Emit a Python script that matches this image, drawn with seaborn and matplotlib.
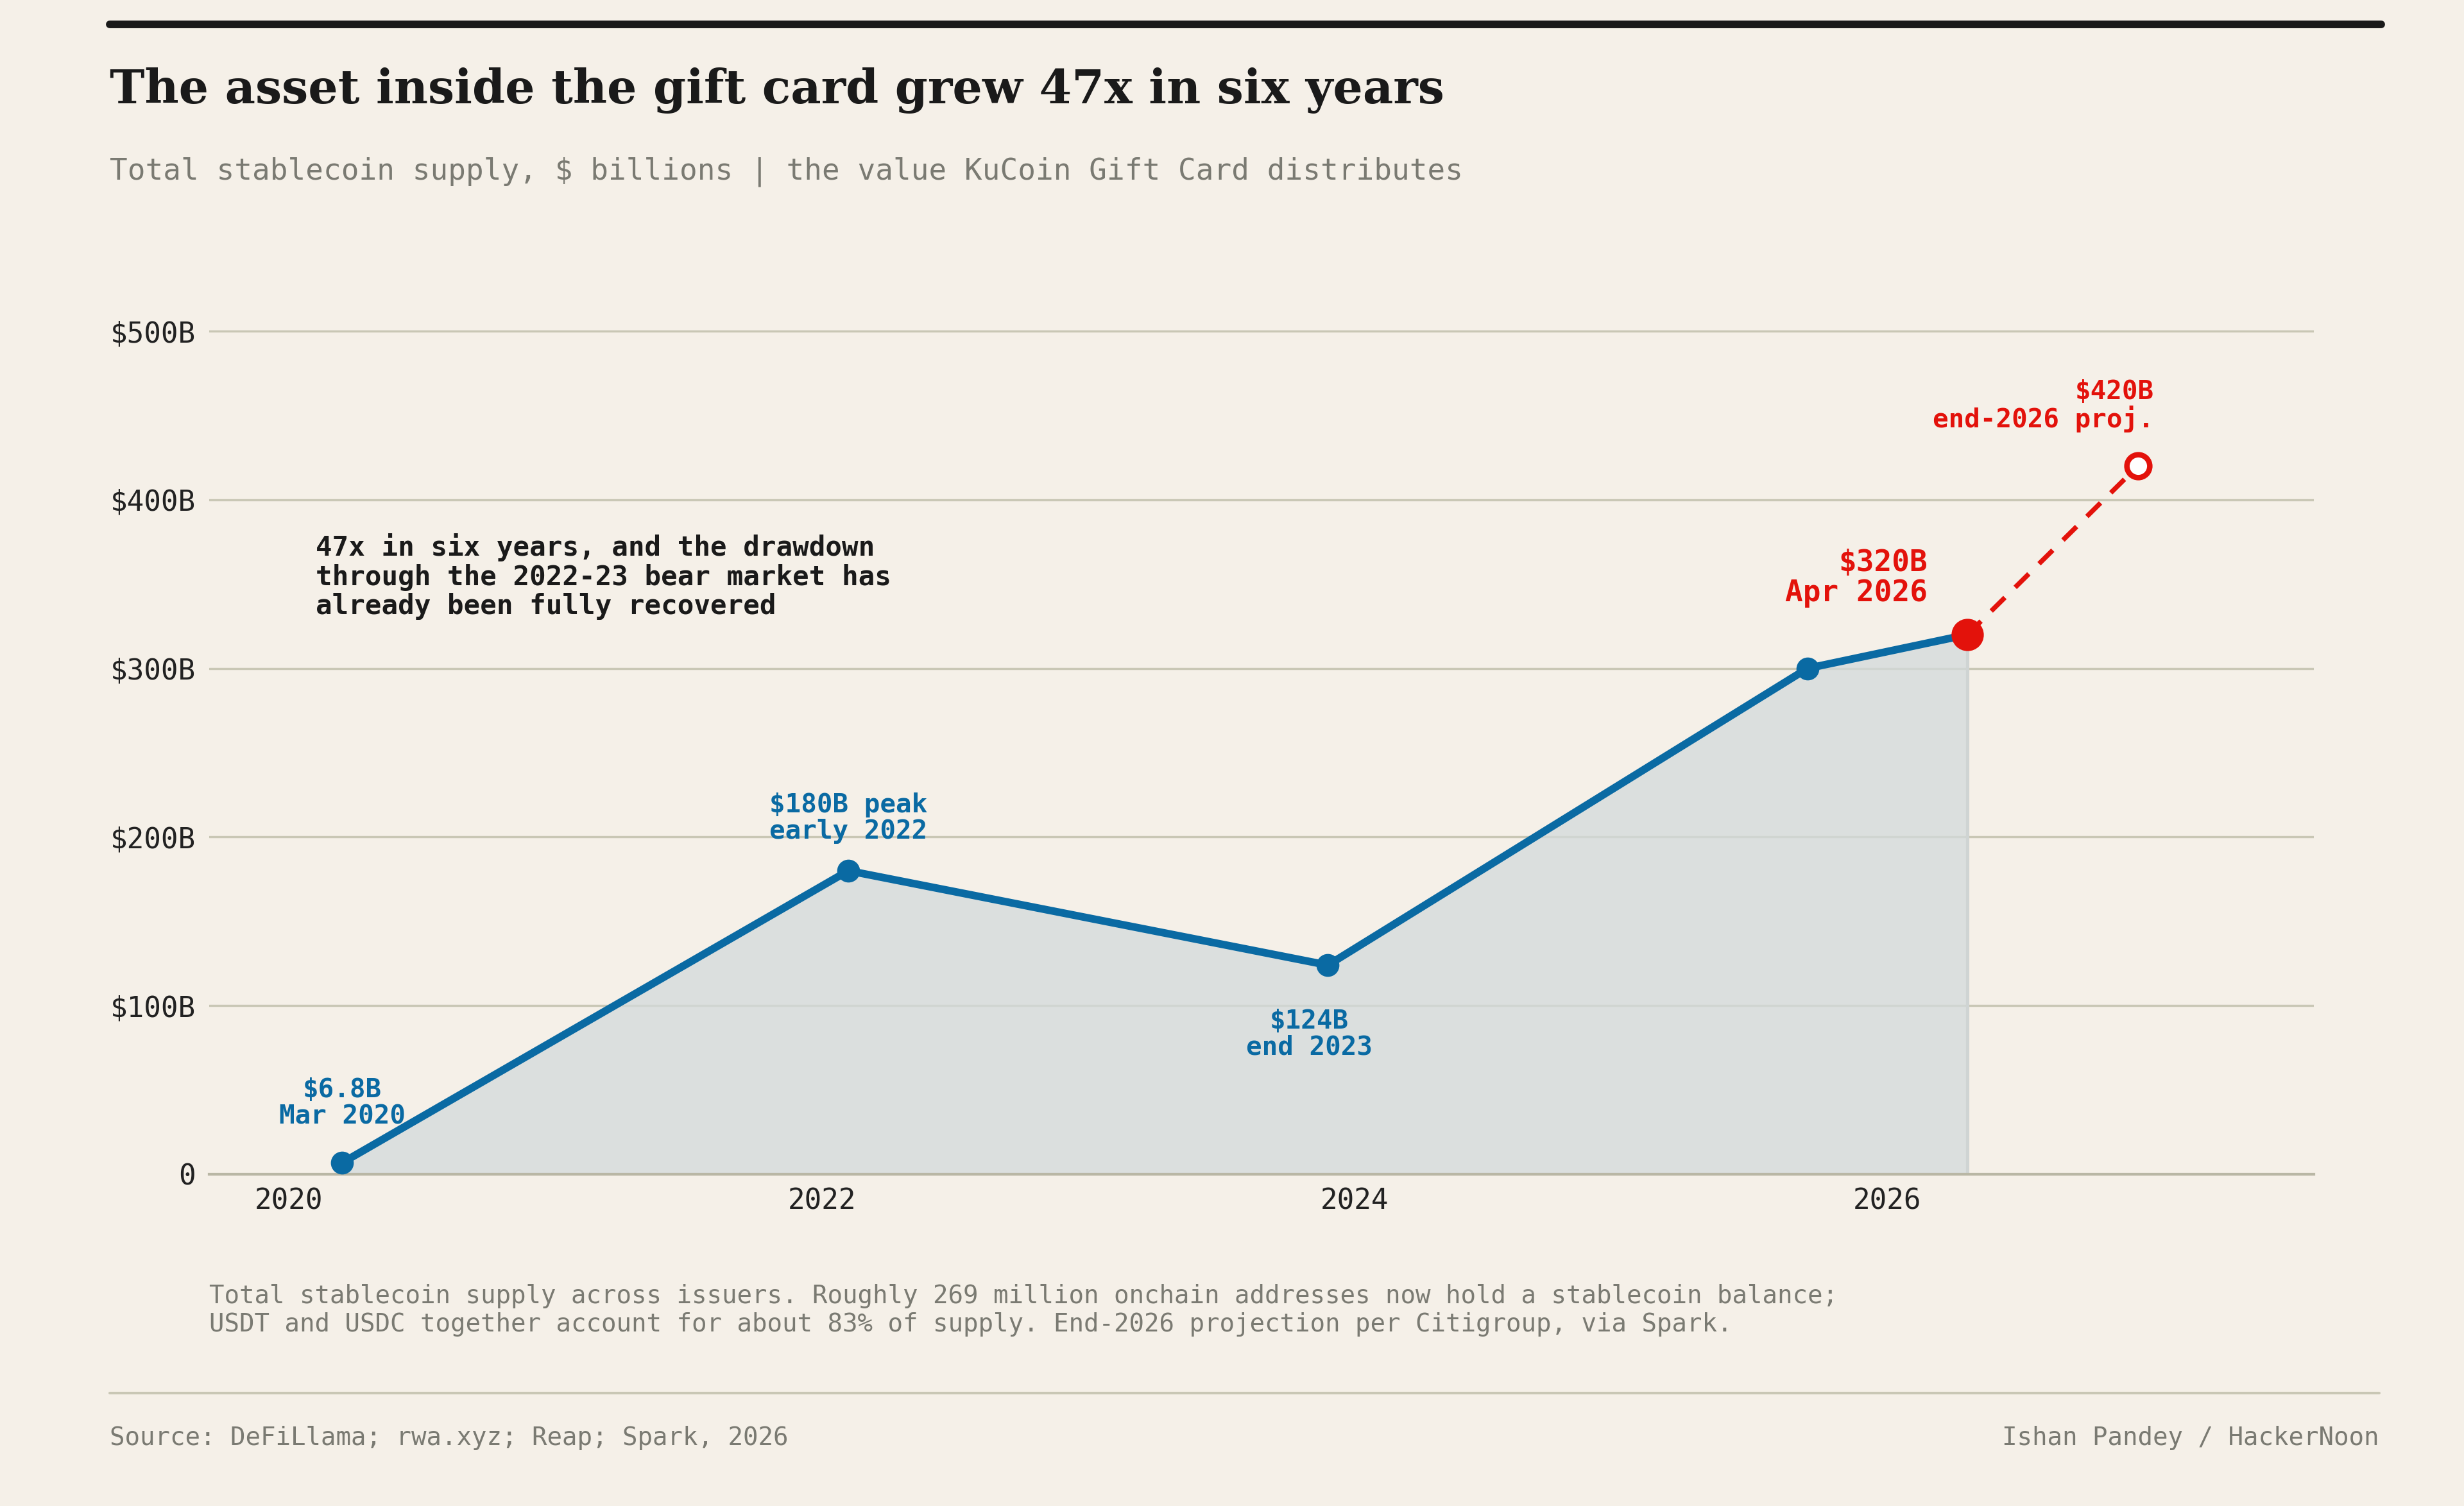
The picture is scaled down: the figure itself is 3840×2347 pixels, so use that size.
import matplotlib
matplotlib.use("Agg")
import matplotlib.pyplot as plt
from matplotlib.lines import Line2D
import seaborn as sns
import pandas as pd

# data
years = [2020.2, 2022.1, 2023.9, 2025.7, 2026.3]
supply = [6.8, 180, 124, 300, 320]
proj_years = [2026.3, 2026.94]
proj_supply = [320, 420]
tick_years = [2020, 2022, 2024, 2026]
y_ticks = [0, 100, 200, 300, 400, 500]
y_labels = ["0", "$100B", "$200B", "$300B", "$400B", "$500B"]

BG = "#f5f0e8"
BLUE = "#0a6aa3"
RED = "#e3120b"
GREY = "#7a7a72"
MONO = "DejaVu Sans Mono"

sns.set_theme(style="white")
plt.rcParams["font.family"] = [MONO]

fig = plt.figure(figsize=(3840 / 245, 2347 / 245), dpi=245, facecolor=BG)
ax = fig.add_axes([0.0848, 0.2203, 0.8542, 0.571])
ax.set_facecolor(BG)

df = pd.DataFrame({"year": years, "supply": supply})
ax.fill_between(df["year"], df["supply"], 0, color="#d3dadb", alpha=0.75, lw=0)
ax.axvline(years[-1], ymax=320 / 510, color="#cfd4d3", lw=1.5)
sns.lineplot(data=df, x="year", y="supply", ax=ax, color=BLUE, lw=3.5)
ax.scatter(years[:-1], supply[:-1], s=90, color=BLUE, zorder=5)
ax.plot(proj_years, proj_supply, color=RED, lw=2.2, ls=(0, (4, 3)))
ax.scatter([years[-1]], [supply[-1]], s=190, color=RED, zorder=6)
ax.scatter([proj_years[-1]], [proj_supply[-1]], s=110, facecolor="white",
           edgecolor=RED, lw=2.5, zorder=6)

ax.set_xlim(2019.7, 2027.6)
ax.set_ylim(0, 510)
ax.set_yticks(y_ticks)
ax.set_yticklabels(y_labels)
ax.set_xticks(tick_years)
ax.set_xticklabels([str(t) for t in tick_years])
ax.tick_params(axis="both", length=0, labelsize=13, colors="#222222")
ax.tick_params(axis="y", pad=6)
ax.tick_params(axis="x", pad=6)
ax.set_xlabel("")
ax.set_ylabel("")
ax.grid(axis="y", color="#c9c7b5", lw=1)
for s in ["top", "right", "left"]:
    ax.spines[s].set_visible(False)
ax.spines["bottom"].set_color("#b9b7a5")

kw = dict(fontsize=12, fontweight="bold", ha="center", family=MONO)
ax.text(2020.2, 27, "$6.8B\nMar 2020", color=BLUE, va="bottom", linespacing=1.05, **kw)
ax.text(2022.1, 196, "$180B peak\nearly 2022", color=BLUE, va="bottom", linespacing=1.05, **kw)
ax.text(2023.83, 98, "$124B\nend 2023", color=BLUE, va="top", linespacing=1.05, **kw)
ax.text(2026.15, 336, "$320B\nApr 2026", color=RED, va="bottom", fontsize=13.5,
        fontweight="bold", ha="right", family=MONO, linespacing=1.05)
ax.text(2027.0, 440, "$420B\nend-2026 proj.", color=RED, va="bottom", fontsize=12,
        fontweight="bold", ha="right", family=MONO, linespacing=1.05)
ax.text(2020.1, 380, "47x in six years, and the drawdown\nthrough the 2022-23 bear market has\nalready been fully recovered",
        color="#1a1a1a", fontsize=12.5, fontweight="bold", va="top", ha="left",
        family=MONO, linespacing=1.1)

# header / footer
fig.add_artist(Line2D([0.0446, 0.9665], [0.984, 0.984], color="#1a1a1a", lw=3.5))
fig.text(0.0446, 0.940, "The asset inside the gift card grew 47x in six years",
         fontsize=21.5, fontweight="bold", family="DejaVu Serif", color="#1a1a1a", va="center")
fig.text(0.0446, 0.886, "Total stablecoin supply, $ billions | the value KuCoin Gift Card distributes",
         fontsize=13.5, color=GREY, va="center", family=MONO)
fig.text(0.0848, 0.130, "Total stablecoin supply across issuers. Roughly 269 million onchain addresses now hold a stablecoin balance;\n"
         "USDT and USDC together account for about 83% of supply. End-2026 projection per Citigroup, via Spark.",
         fontsize=11.5, color=GREY, va="center", family=MONO, linespacing=1.2)
fig.add_artist(Line2D([0.0446, 0.9655], [0.075, 0.075], color="#c9c7b5", lw=1.2))
fig.text(0.0446, 0.045, "Source: DeFiLlama; rwa.xyz; Reap; Spark, 2026",
         fontsize=11.5, color=GREY, va="center", family=MONO)
fig.text(0.9655, 0.045, "Ishan Pandey / HackerNoon",
         fontsize=11.5, color=GREY, va="center", ha="right", family=MONO)

fig.savefig("out.png", dpi=245, facecolor=BG)
